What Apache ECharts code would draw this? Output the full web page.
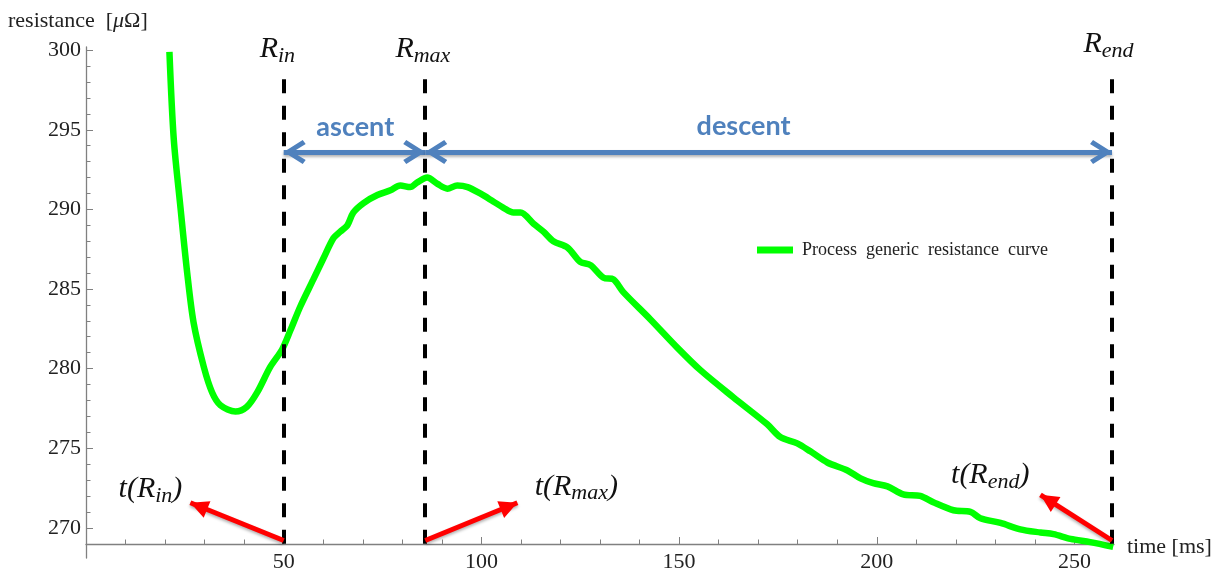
<!DOCTYPE html>
<html>
<head>
<meta charset="utf-8">
<script src="https://cdn.jsdelivr.net/npm/echarts@6/dist/echarts.min.js"></script>
<style>
  html, body { margin: 0; padding: 0; background: #fff; }
  #main { width: 1225px; height: 572px; }
</style>
</head>
<body>
<div id="main"></div>
<script>
// curve: time [ms] / resistance [uOhm]
var times = [21.1, 22.2, 23.9, 25.6, 27.2, 29.8, 31.9, 34.0, 37.8, 40.7, 43.3, 46.6, 49.6, 51.7, 54.2,
    57.5, 60.0, 62.6, 64.3, 66.1, 67.6, 70.2, 73.7, 77.0, 79.5, 82.0, 83.8, 86.3, 88.9, 91.4, 93.9,
    96.5, 99.7, 103.0, 105.6, 108.1, 109.9, 113.2, 115.7, 118.2, 121.8, 125.0, 127.6, 130.9, 133.4,
    135.9, 142.7, 149.6, 155.4, 163.7, 172.3, 175.6, 179.9, 183.2, 187.5, 192.6, 195.9, 199.1, 202.7,
    206.7, 211.0, 214.3, 219.4, 223.7, 226.2, 231.3, 236.3, 241.4, 244.7, 249.0, 254.0, 259.8];
var resistance = [299.9, 294.4, 290.1, 286.0, 282.9, 280.1, 278.5, 277.7, 277.3, 277.6, 278.5, 280.1,
    281.2, 282.4, 283.9, 285.6, 286.9, 288.2, 288.6, 289.0, 289.8, 290.4, 290.9, 291.2, 291.5, 291.4,
    291.7, 292.0, 291.6, 291.3, 291.5, 291.4, 291.0, 290.5, 290.1, 289.8, 289.8, 289.1, 288.6, 288.0,
    287.6, 286.7, 286.5, 285.7, 285.6, 284.8, 283.1, 281.3, 279.9, 278.2, 276.5, 275.7, 275.3, 274.8,
    274.1, 273.6, 273.1, 272.8, 272.6, 272.1, 272.0, 271.6, 271.1, 271.0, 270.6, 270.3, 269.9, 269.7,
    269.6, 269.3, 269.1, 268.8];

var xMajor = [50, 100, 150, 200, 250];
var xMinor = [10, 20, 30, 40, 60, 70, 80, 90, 110, 120, 130, 140, 160, 170, 180, 190, 210, 220, 230, 240];
var yMajor = [270, 275, 280, 285, 290, 295, 300];
var yMinor = [271, 272, 273, 274, 276, 277, 278, 279, 281, 282, 283, 284, 286, 287, 288, 289,
    291, 292, 293, 294, 296, 297, 298, 299];

var seriesName = 'Process  generic  resistance  curve';

// R_in, R_max, R_end
var markerTimes = [50, 85.8, 259.5];
var axisLevel = 269;      // where the time axis crosses
var dashTop = 298.17;
var spanLevel = 293.6;

// red pointers: tail on the axis, head towards the t(..) label
var pointerHeads = [[26.4, 271.57], [109.1, 271.57], [241.4, 272.07]];

var notes = [
    {text: '{r|R}{s|in}', t: 48.4, r: 300.05},
    {text: '{r|R}{s|max}', t: 85.2, r: 300.05},
    {text: '{r|R}{s|end}', t: 258.6, r: 300.05, dy: -5},
    {text: '{r|t(R}{s|in}{r|)}', t: 16.3, r: 272.45},
    {text: '{r|t(R}{s|max}{r|)}', t: 124.0, r: 272.58},
    {text: '{r|t(R}{s|end}{r|)}', t: 228.7, r: 273.33},
    {text: '{b|ascent}', t: 68.1, r: 295.16},
    {text: '{b|descent}', t: 166.3, r: 295.22}
];

var serif = 'Liberation Serif';
var blue = '#4f81bd';
// heads drawn with the tip in the middle of the symbol box (extra point pads the box)
var chevron = 'path://M0,19 L12,0 L24,19 L20,22 L12,9 L4,22 Z M12,-22 L12.01,-22 Z';
var spike = 'path://M0,18 L9,0 L18,18 Z M9,-18 L9.01,-18 Z';

function buildLines() {
    let lines = [];
    markerTimes.forEach(function (t) {
        lines.push([
            {coord: [t, dashTop], symbol: 'none',
                lineStyle: {color: '#000', width: 4, type: [14, 12.5]}},
            {coord: [t, axisLevel], symbol: 'none'}
        ]);
    });
    for (let i = 0; i < 2; i++) {
        lines.push([
            {coord: [markerTimes[i], spanLevel], symbol: chevron, symbolSize: [24, 44],
                lineStyle: {color: blue, width: 5, type: 'solid',
                    shadowBlur: 3, shadowColor: 'rgba(0,0,0,0.3)', shadowOffsetY: 2}},
            {coord: [markerTimes[i + 1], spanLevel], symbol: chevron, symbolSize: [24, 44]}
        ]);
    }
    pointerHeads.forEach(function (head, i) {
        lines.push([
            {coord: [markerTimes[i], axisLevel + 0.2], symbol: 'none',
                lineStyle: {color: '#ff0000', width: 5, type: 'solid',
                    shadowBlur: 3, shadowColor: 'rgba(0,0,0,0.3)', shadowOffsetY: 2}},
            {coord: head, symbol: spike, symbolSize: [18, 36]}
        ]);
    });
    return lines;
}

function buildNotes() {
    return notes.map(function (n) {
        return {coord: [n.t, n.r], label: {formatter: n.text, offset: [0, n.dy || 0]}};
    });
}

var data = times.map(function (t, k) { return [t, resistance[k]]; });

var chart = echarts.init(document.getElementById('main'));

var axisLineStyle = {color: '#808080', width: 1.3};
var tickLabel = {fontFamily: serif, fontSize: 22, color: '#222'};
var xBase = {
    type: 'value', min: 0, max: 260, offset: -14, position: 'bottom',
    splitLine: {show: false}
};
var yBase = {
    type: 'value', min: 268.1, max: 300.2, position: 'left',
    splitLine: {show: false}
};

var option = {
    animation: false,
    textStyle: {fontFamily: serif},
    grid: {left: 86, right: 111, top: 47, bottom: 14, outerBoundsMode: 'none'},
    legend: {
        data: [seriesName], left: 752, top: 236, icon: 'rect',
        itemWidth: 36, itemHeight: 7,
        textStyle: {fontFamily: serif, fontSize: 18, color: '#222', padding: [0, 0, 0, 4]}
    },
    xAxis: [
        Object.assign({}, xBase, {
            axisLine: {show: true, lineStyle: axisLineStyle},
            axisTick: {show: true, inside: true, length: 7, customValues: xMajor,
                lineStyle: {color: '#808080'}},
            axisLabel: Object.assign({customValues: xMajor, margin: 7}, tickLabel)
        }),
        Object.assign({}, xBase, {
            axisLine: {show: false},
            axisTick: {show: true, inside: true, length: 4.5, customValues: xMinor,
                lineStyle: {color: '#808080'}},
            axisLabel: {show: false}
        })
    ],
    yAxis: [
        Object.assign({}, yBase, {
            axisLine: {show: true, lineStyle: axisLineStyle},
            axisTick: {show: true, inside: true, length: 7, customValues: yMajor,
                lineStyle: {color: '#808080'}},
            axisLabel: Object.assign({customValues: yMajor, margin: 5}, tickLabel)
        }),
        Object.assign({}, yBase, {
            axisLine: {show: false},
            axisTick: {show: true, inside: true, length: 4.5, customValues: yMinor,
                lineStyle: {color: '#808080'}},
            axisLabel: {show: false}
        })
    ],
    graphic: [
        {type: 'text', left: 8, top: 10, style: {
            text: 'resistance  [{i|μ}Ω]', fontFamily: serif, fontSize: 22, fill: '#222',
            rich: {i: {fontFamily: serif, fontStyle: 'italic', fontSize: 22, fill: '#222'}}
        }},
        {type: 'text', left: 1127, top: 536, style: {
            text: 'time [ms]', fontFamily: serif, fontSize: 22, fill: '#222'
        }}
    ],
    series: [{
        name: seriesName,
        type: 'line',
        data: data,
        clip: false,
        smooth: 0.3,
        showSymbol: false,
        lineStyle: {color: '#00ff00', width: 6.5},
        itemStyle: {color: '#00ff00'},
        z: 3,
        markLine: {
            silent: true,
            animation: false,
            symbol: 'none',
            label: {show: false},
            emphasis: {disabled: true},
            data: buildLines()
        },
        markPoint: {
            silent: true,
            animation: false,
            symbol: 'circle',
            symbolSize: 0,
            label: {
                show: true, position: 'inside',
                rich: {
                    r: {fontFamily: serif, fontStyle: 'italic', fontSize: 30, lineHeight: 36, color: '#111'},
                    s: {fontFamily: serif, fontStyle: 'italic', fontSize: 22, lineHeight: 22,
                        verticalAlign: 'bottom', color: '#111'},
                    b: {fontFamily: 'Lato', fontWeight: 'bold', fontSize: 27, color: blue}
                }
            },
            data: buildNotes()
        }
    }]
};

chart.setOption(option);
</script>
</body>
</html>
